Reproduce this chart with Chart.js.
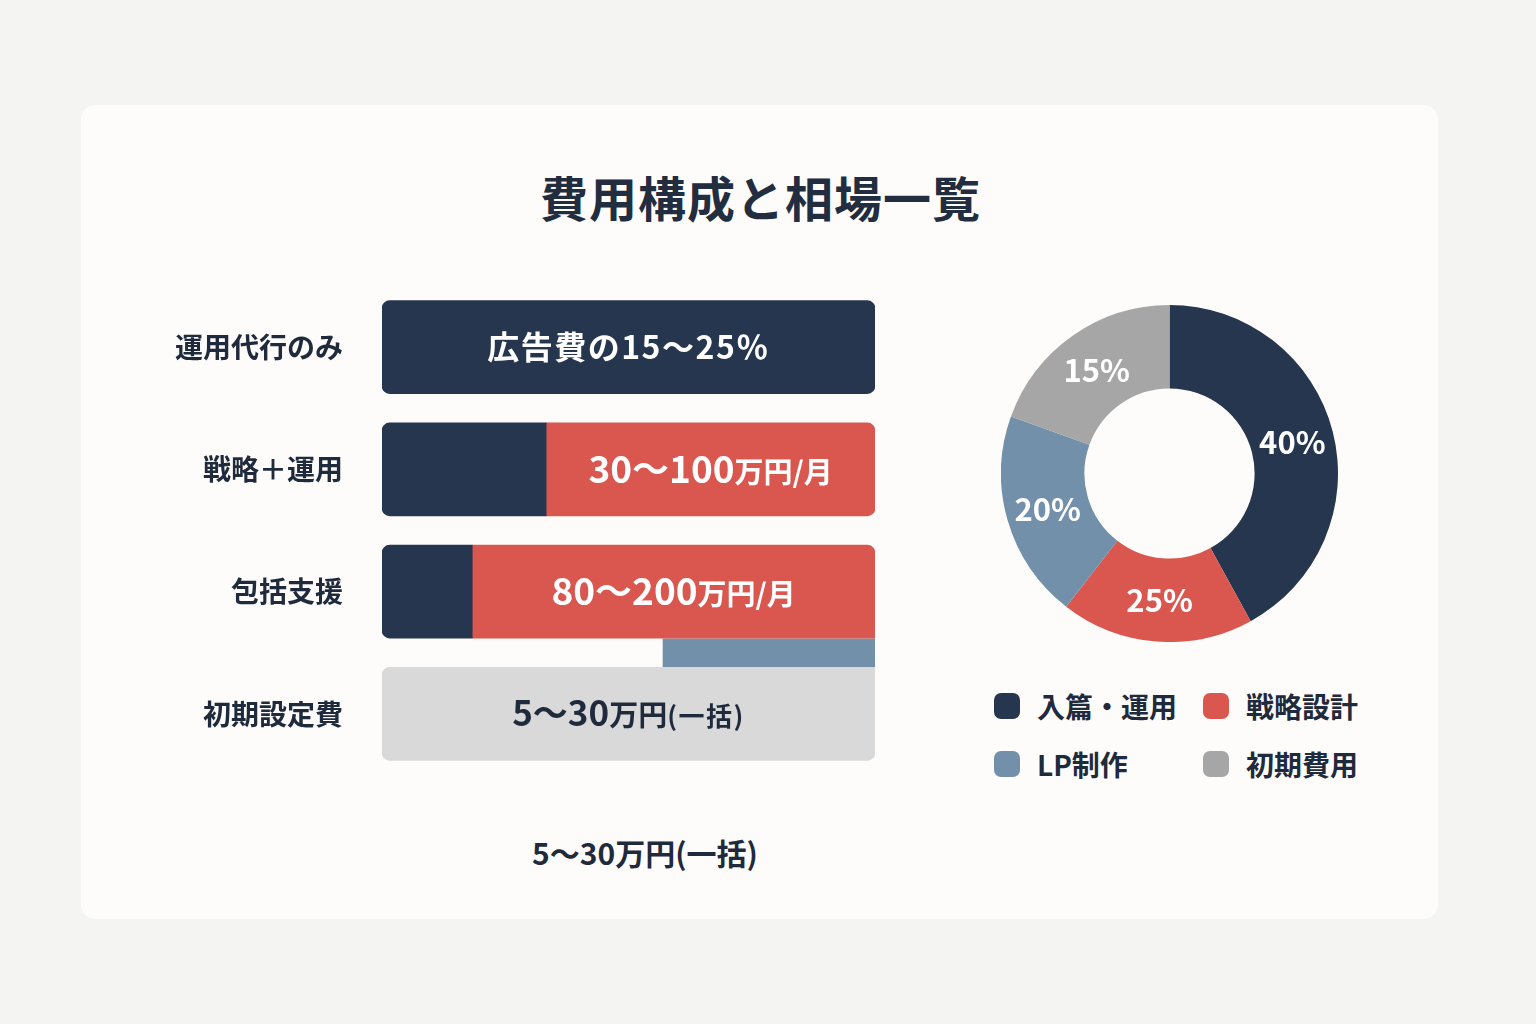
<!DOCTYPE html>
<html lang="ja">
<head>
<meta charset="utf-8">
<script src="https://cdn.jsdelivr.net/npm/chart.js@4.4.1/dist/chart.umd.min.js"></script>
<style>
html,body{margin:0;padding:0;width:1536px;height:1024px;overflow:hidden;background:#f4f4f2;font-family:"Noto Sans CJK JP","Noto Sans",sans-serif;color:#1f2a3c}
#card{position:absolute;left:81px;top:105px;width:1357px;height:814px;background:#fdfcfa;border-radius:14px}
#title{position:absolute;left:0;top:163px;width:1521px;text-align:center;font-size:48px;font-weight:700;line-height:66px;color:#222d40;letter-spacing:1px}
#barWrap{position:absolute;left:140px;top:286px;width:735px;height:489px}
#donutWrap{position:absolute;left:1001px;top:305px;width:337px;height:337px}
#note{position:absolute;left:445px;top:830px;width:400px;text-align:center;font-size:30px;font-weight:700;line-height:44px;color:#1f2a3c}
#legend{position:absolute;left:994px;top:684px;width:420px;display:grid;grid-template-columns:209px 200px;row-gap:14px}
.li{display:flex;align-items:center;height:44px;font-size:28px;font-weight:700;color:#1f2a3c;white-space:nowrap}
.sw{width:26px;height:26px;border-radius:7px;margin-right:17px;flex:none}
</style>
</head>
<body>
<div id="card"></div>
<div id="title">費用構成と相場一覧</div>
<div id="barWrap"><canvas id="bar"></canvas></div>
<div id="donutWrap"><canvas id="donut"></canvas></div>
<div id="legend"></div>
<div id="note">5〜30万円(一括)</div>
<script>
// ---- data ----
const barCategories = ['運用代行のみ', '戦略＋運用', '包括支援', '初期設定費'];
const navyShare  = [100, 33.3, 18.3, null];
const redShare   = [null, 66.7, 81.7, null];
const grayShare  = [null, null, null, 100];
const stripRange = [57, 100];   // blue strip between 包括支援 and 初期設定費
const stripPos   = 2.5;
const barLabelMain = ['広告費の15〜25％', '30〜100', '80〜200', '5〜30'];
const barLabelUnit = ['', '万円/月', '万円/月', '万円'];
const barLabelNote = ['', '', '', '(一括)'];
const labelSegment = [0, 1, 1, 2]; // dataset index holding the label

const donutLabels = ['入篇・運用', '戦略設計', 'LP制作', '初期費用'];
const donutValues = [42, 18.5, 20, 19.5];
const donutTexts  = ['40%', '25%', '20%', '15%'];

// ---- styles ----
const NAVY = '#27364f', RED = '#d9574f', BLUE = '#7290aa', GRAY = '#a6a6a6', LIGHT = '#d9d9d9';
const TEXT = '#1f2a3c';
const FONT = '"Noto Sans CJK JP", "Noto Sans", sans-serif';
const mainSize = [32, 37, 37, 35];
const mainSpacing = [1.5, 0, 0, 0];
const unitSize = 29, noteSize = 26, noteSpacing = 1.5;
const labelColor = ['#ffffff', '#ffffff', '#ffffff', TEXT];
const R = 8;
const touchesStripBelow = i => i === Math.floor(stripPos);
const touchesStripAbove = i => i === Math.ceil(stripPos);

const barLabelPlugin = {
  id: 'barLabels',
  afterDatasetsDraw(chart) {
    const ctx = chart.ctx;
    ctx.save();
    ctx.textBaseline = 'alphabetic';
    ctx.textAlign = 'left';
    barCategories.forEach((_, i) => {
      const el = chart.getDatasetMeta(labelSegment[i]).data[i];
      if (!el) return;
      const cx = (el.x + el.base) / 2, cy = el.y;
      const parts = [
        [barLabelMain[i], mainSize[i], mainSpacing[i]],
        [barLabelUnit[i], unitSize, 0],
        [barLabelNote[i], noteSize, noteSpacing]
      ].filter(p => p[0]);
      let total = 0;
      const widths = parts.map(p => {
        ctx.font = `700 ${p[1]}px ${FONT}`;
        ctx.letterSpacing = p[2] + 'px';
        const w = ctx.measureText(p[0]).width; total += w; return w;
      });
      let x = cx - total / 2;
      const base = cy + mainSize[i] * 0.36;
      ctx.fillStyle = labelColor[i];
      parts.forEach((p, k) => {
        ctx.font = `700 ${p[1]}px ${FONT}`;
        ctx.letterSpacing = p[2] + 'px';
        ctx.fillText(p[0], x, base);
        x += widths[k];
      });
    });
    ctx.restore();
  }
};

new Chart(document.getElementById('bar'), {
  type: 'bar',
  data: {
    labels: barCategories,
    datasets: [
      { data: navyShare, backgroundColor: NAVY, borderSkipped: false,
        borderRadius: c => { const full = c.raw === 100; return {topLeft: R, bottomLeft: R, topRight: full ? R : 0, bottomRight: full ? R : 0}; } },
      { data: redShare, backgroundColor: RED, borderSkipped: false,
        borderRadius: c => ({topLeft: 0, bottomLeft: 0, topRight: R, bottomRight: touchesStripBelow(c.dataIndex) ? 0 : R}) },
      { data: grayShare, backgroundColor: LIGHT, borderSkipped: false,
        borderRadius: c => ({topLeft: R, bottomLeft: R, bottomRight: R, topRight: touchesStripAbove(c.dataIndex) ? 0 : R}) },
      { data: [{x: stripRange, y: stripPos}], backgroundColor: BLUE, yAxisID: 'y2',
        barThickness: 28, borderSkipped: false, borderRadius: 0 }
    ]
  },
  options: {
    indexAxis: 'y',
    responsive: true,
    maintainAspectRatio: false,
    animation: false,
    layout: { padding: 0 },
    datasets: { bar: { grouped: false, barThickness: 93 } },
    plugins: { legend: { display: false }, tooltip: { enabled: false } },
    scales: {
      x: { display: false, stacked: true, min: 0, max: 100 },
      y: {
        stacked: true,
        grid: { display: false, drawTicks: false },
        border: { display: false },
        ticks: { color: TEXT, font: { family: FONT, size: 28, weight: '700' }, padding: 39 },
        afterFit: s => { s.width = 242; s.paddingTop = 0; s.paddingBottom = 0; }
      },
      y2: { type: 'linear', axis: 'y', display: false, offset: false, min: -0.5, max: 3.5, reverse: true }
    }
  },
  plugins: [barLabelPlugin]
});

const donutLabelPlugin = {
  id: 'donutLabels',
  afterDatasetsDraw(chart) {
    const ctx = chart.ctx;
    ctx.save();
    ctx.fillStyle = '#ffffff';
    ctx.font = `700 31px ${FONT}`;
    ctx.textAlign = 'center';
    ctx.textBaseline = 'middle';
    chart.getDatasetMeta(0).data.forEach((arc, i) => {
      const p = arc.tooltipPosition();
      ctx.fillText(donutTexts[i], p.x, p.y);
    });
    ctx.restore();
  }
};

const donutColors = [NAVY, RED, BLUE, GRAY];
new Chart(document.getElementById('donut'), {
  type: 'doughnut',
  data: {
    labels: donutLabels,
    datasets: [{ data: donutValues, backgroundColor: donutColors, borderWidth: 0 }]
  },
  options: {
    responsive: true,
    maintainAspectRatio: false,
    animation: false,
    cutout: '50.5%',
    layout: { padding: 0 },
    plugins: { legend: { display: false }, tooltip: { enabled: false } }
  },
  plugins: [donutLabelPlugin]
});

// HTML legend (2 x 2)
const legend = document.getElementById('legend');
donutLabels.forEach((l, i) => {
  const d = document.createElement('div');
  d.className = 'li';
  const s = document.createElement('span');
  s.className = 'sw';
  s.style.background = donutColors[i];
  d.appendChild(s);
  d.appendChild(document.createTextNode(l));
  legend.appendChild(d);
});
</script>
</body>
</html>
